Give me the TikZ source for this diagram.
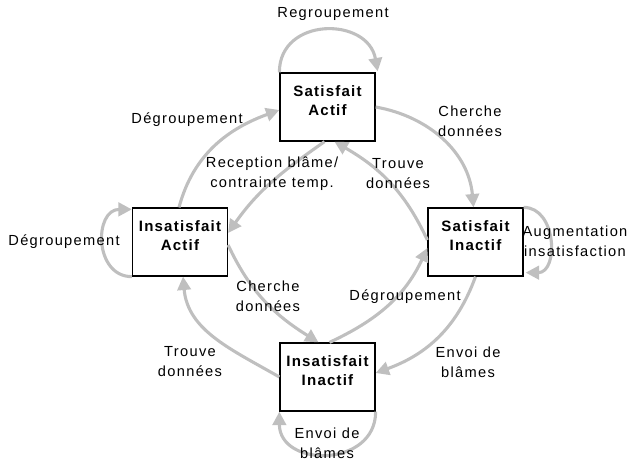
\documentclass[tikz,border=0pt]{standalone}
\usepackage{fontspec}
\setmainfont{Liberation Sans}
\newfontfamily\lblfont[LetterSpace=9]{Liberation Sans}
\newfontfamily\boxfont[LetterSpace=8]{Liberation Sans}
\usetikzlibrary{arrows.meta,calc}
\begin{document}
\begin{tikzpicture}[x=0.025cm,y=0.025cm,
  statebox/.style={draw=black,line width=0.9pt,fill=white,minimum width=2.375cm,minimum height=1.7cm,inner sep=0pt},
  statetxt/.style={align=center,inner sep=0pt,font=\boxfont\fontsize{10.7}{13.5}\selectfont\bfseries},
  lbl/.style={align=center,inner sep=0pt,font=\lblfont\fontsize{10.4}{14.2}\selectfont},
  conn/.style={draw=black!25,line width=2.2pt,-{Triangle[length=9.5pt,width=9.5pt]}}]
\useasboundingbox (0,0) rectangle (630,-463);
% states
\node[statebox] (SA) at (327.5,-107) {};
\node[statebox] (IA) at (180,-242) {};
\node[statebox] (SI) at (475.5,-242) {};
\node[statebox] (II) at (327.5,-377) {};
\node[statetxt] (SAt) at (327.5,-101) {Satisfait\\Actif};
\node[statetxt] (IAt) at (180,-236) {Insatisfait\\Actif};
\node[statetxt] (SIt) at (475.5,-236) {Satisfait\\Inactif};
\node[statetxt] (IIt) at (327.5,-371) {Insatisfait\\Inactif};
% connectors
\draw[conn] (SA.north west) to[out=90,in=100,looseness=1.45] ($(SA.north east)+(2,1)$);
\draw[conn] ($(IA.north)+(-1,0)$) to[out=75,in=200] ($(SA.west)+(0,-3)$);
\draw[conn] (SA.east) to[out=-10,in=95] ($(SI.north)+(-2,0)$);
\draw[conn] ($(SA.south)+(-3,0)$) to[out=215,in=55] ($(IA.east)+(0,9)$);
\draw[conn] ($(SI.west)+(0,2)$) to[out=115,in=-30] ($(SA.south)+(7,0)$);
\draw[conn] (SI.north east) to[out=0,in=0,looseness=1.3] ($(SI.south east)+(2,4)$);
\draw[conn] (IA.south west) to[out=180,in=180,looseness=1.45] ($(IA.north west)+(0,-2)$);
\draw[conn] ($(IA.east)+(0,-3)$) to[out=-65,in=148] ($(II.north)+(-9,0)$);
\draw[conn] ($(II.north)+(2,0)$) to[out=25,in=245] ($(SI.west)+(0,-6)$);
\draw[conn] (SI.south) to[out=250,in=20] ($(II.east)+(0,4)$);
\draw[conn] (II.west) to[out=150,in=275] ($(IA.south)+(3,0)$);
\draw[conn] (II.south east) to[out=-90,in=-90,looseness=1.5] (II.south west);
% labels
\node[lbl] (l1) at (333,-14) {Regroupement};
\node[lbl] (l2) at (187,-120) {Dégroupement};
\node[lbl] (l3) at (470,-121) {Cherche\\données};
\node[lbl] (l4) at (272,-174) {Reception blâme/\\contrainte temp.};
\node[lbl] (l5) at (398,-174) {Trouve\\données};
\node[lbl] (l6) at (64,-242) {Dégroupement};
\node[lbl] (l7) at (575,-241) {Augmentation\\insatisfaction};
\node[lbl] (l8) at (268,-296) {Cherche\\données};
\node[lbl] (l9) at (405,-297) {Dégroupement};
\node[lbl] (l10) at (190,-362) {Trouve\\données};
\node[lbl] (l11) at (468,-362) {Envoi de\\blâmes};
\node[lbl] (l12) at (327,-443) {Envoi de\\blâmes};
\end{tikzpicture}
\end{document}
